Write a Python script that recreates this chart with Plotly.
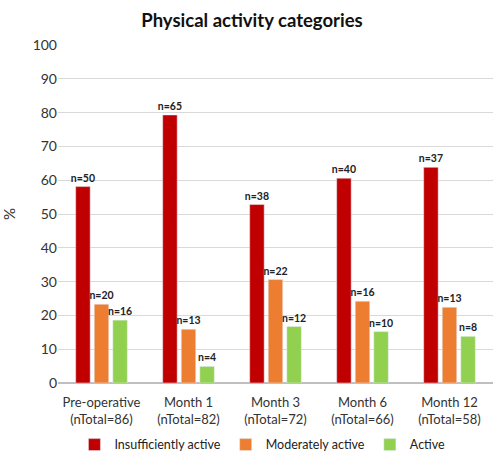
import plotly.graph_objects as go

categories = ["Pre-operative<br>(nTotal=86)", "Month 1<br>(nTotal=82)", "Month 3<br>(nTotal=72)",
              "Month 6<br>(nTotal=66)", "Month 12<br>(nTotal=58)"]
insufficient = [58.1, 79.3, 52.8, 60.6, 63.8]
moderate = [23.3, 15.9, 30.6, 24.2, 22.4]
active = [18.6, 4.9, 16.7, 15.2, 13.8]
insufficient_n = ["n=50", "n=65", "n=38", "n=40", "n=37"]
moderate_n = ["n=20", "n=13", "n=22", "n=16", "n=13"]
active_n = ["n=16", "n=4", "n=12", "n=10", "n=8"]

series = [
    ("Insufficiently active", insufficient, insufficient_n, "#C00000"),
    ("Moderately active", moderate, moderate_n, "#ED7D31"),
    ("Active", active, active_n, "#92D050"),
]

fig = go.Figure()
for name, vals, labels, color in series:
    fig.add_trace(go.Bar(
        x=categories, y=vals, name=name, marker_color=color,
        text=labels, textposition="outside", cliponaxis=False, constraintext="none",
        textfont=dict(size=10.5, color="#222", family="Lato", weight="bold"),
    ))

fig.update_layout(
    width=498, height=455,
    margin=dict(l=58, r=5, t=45, b=72, autoexpand=False),
    paper_bgcolor="white", plot_bgcolor="white",
    font=dict(family="Lato", color="#333", size=13),
    title=dict(text="<b>Physical activity categories</b>", x=0.506, xanchor="center", y=0.97,
               font=dict(size=18.5, color="#111")),
    barmode="group", bargap=0.36, bargroupgap=0.22,
    legend=dict(orientation="h", x=0.47, xanchor="center", yref="container", y=0.022, yanchor="middle",
                font=dict(size=12.5, color="#222"), traceorder="normal", itemwidth=30,
                tracegroupgap=0),
    yaxis=dict(range=[0, 100], dtick=10, showgrid=True, gridcolor="#D9D9D9", gridwidth=1,
               zeroline=True, zerolinecolor="#BFBFBF", tickfont=dict(size=14, color="#333"),
               title=dict(text="%", font=dict(size=15, color="#333"), standoff=14),
               ticks="", showline=False),
    xaxis=dict(tickfont=dict(size=13, color="#333"), showline=True, linecolor="#BFBFBF", ticks="",
               ticklabelstandoff=7),
)

fig.write_html("out.html")
